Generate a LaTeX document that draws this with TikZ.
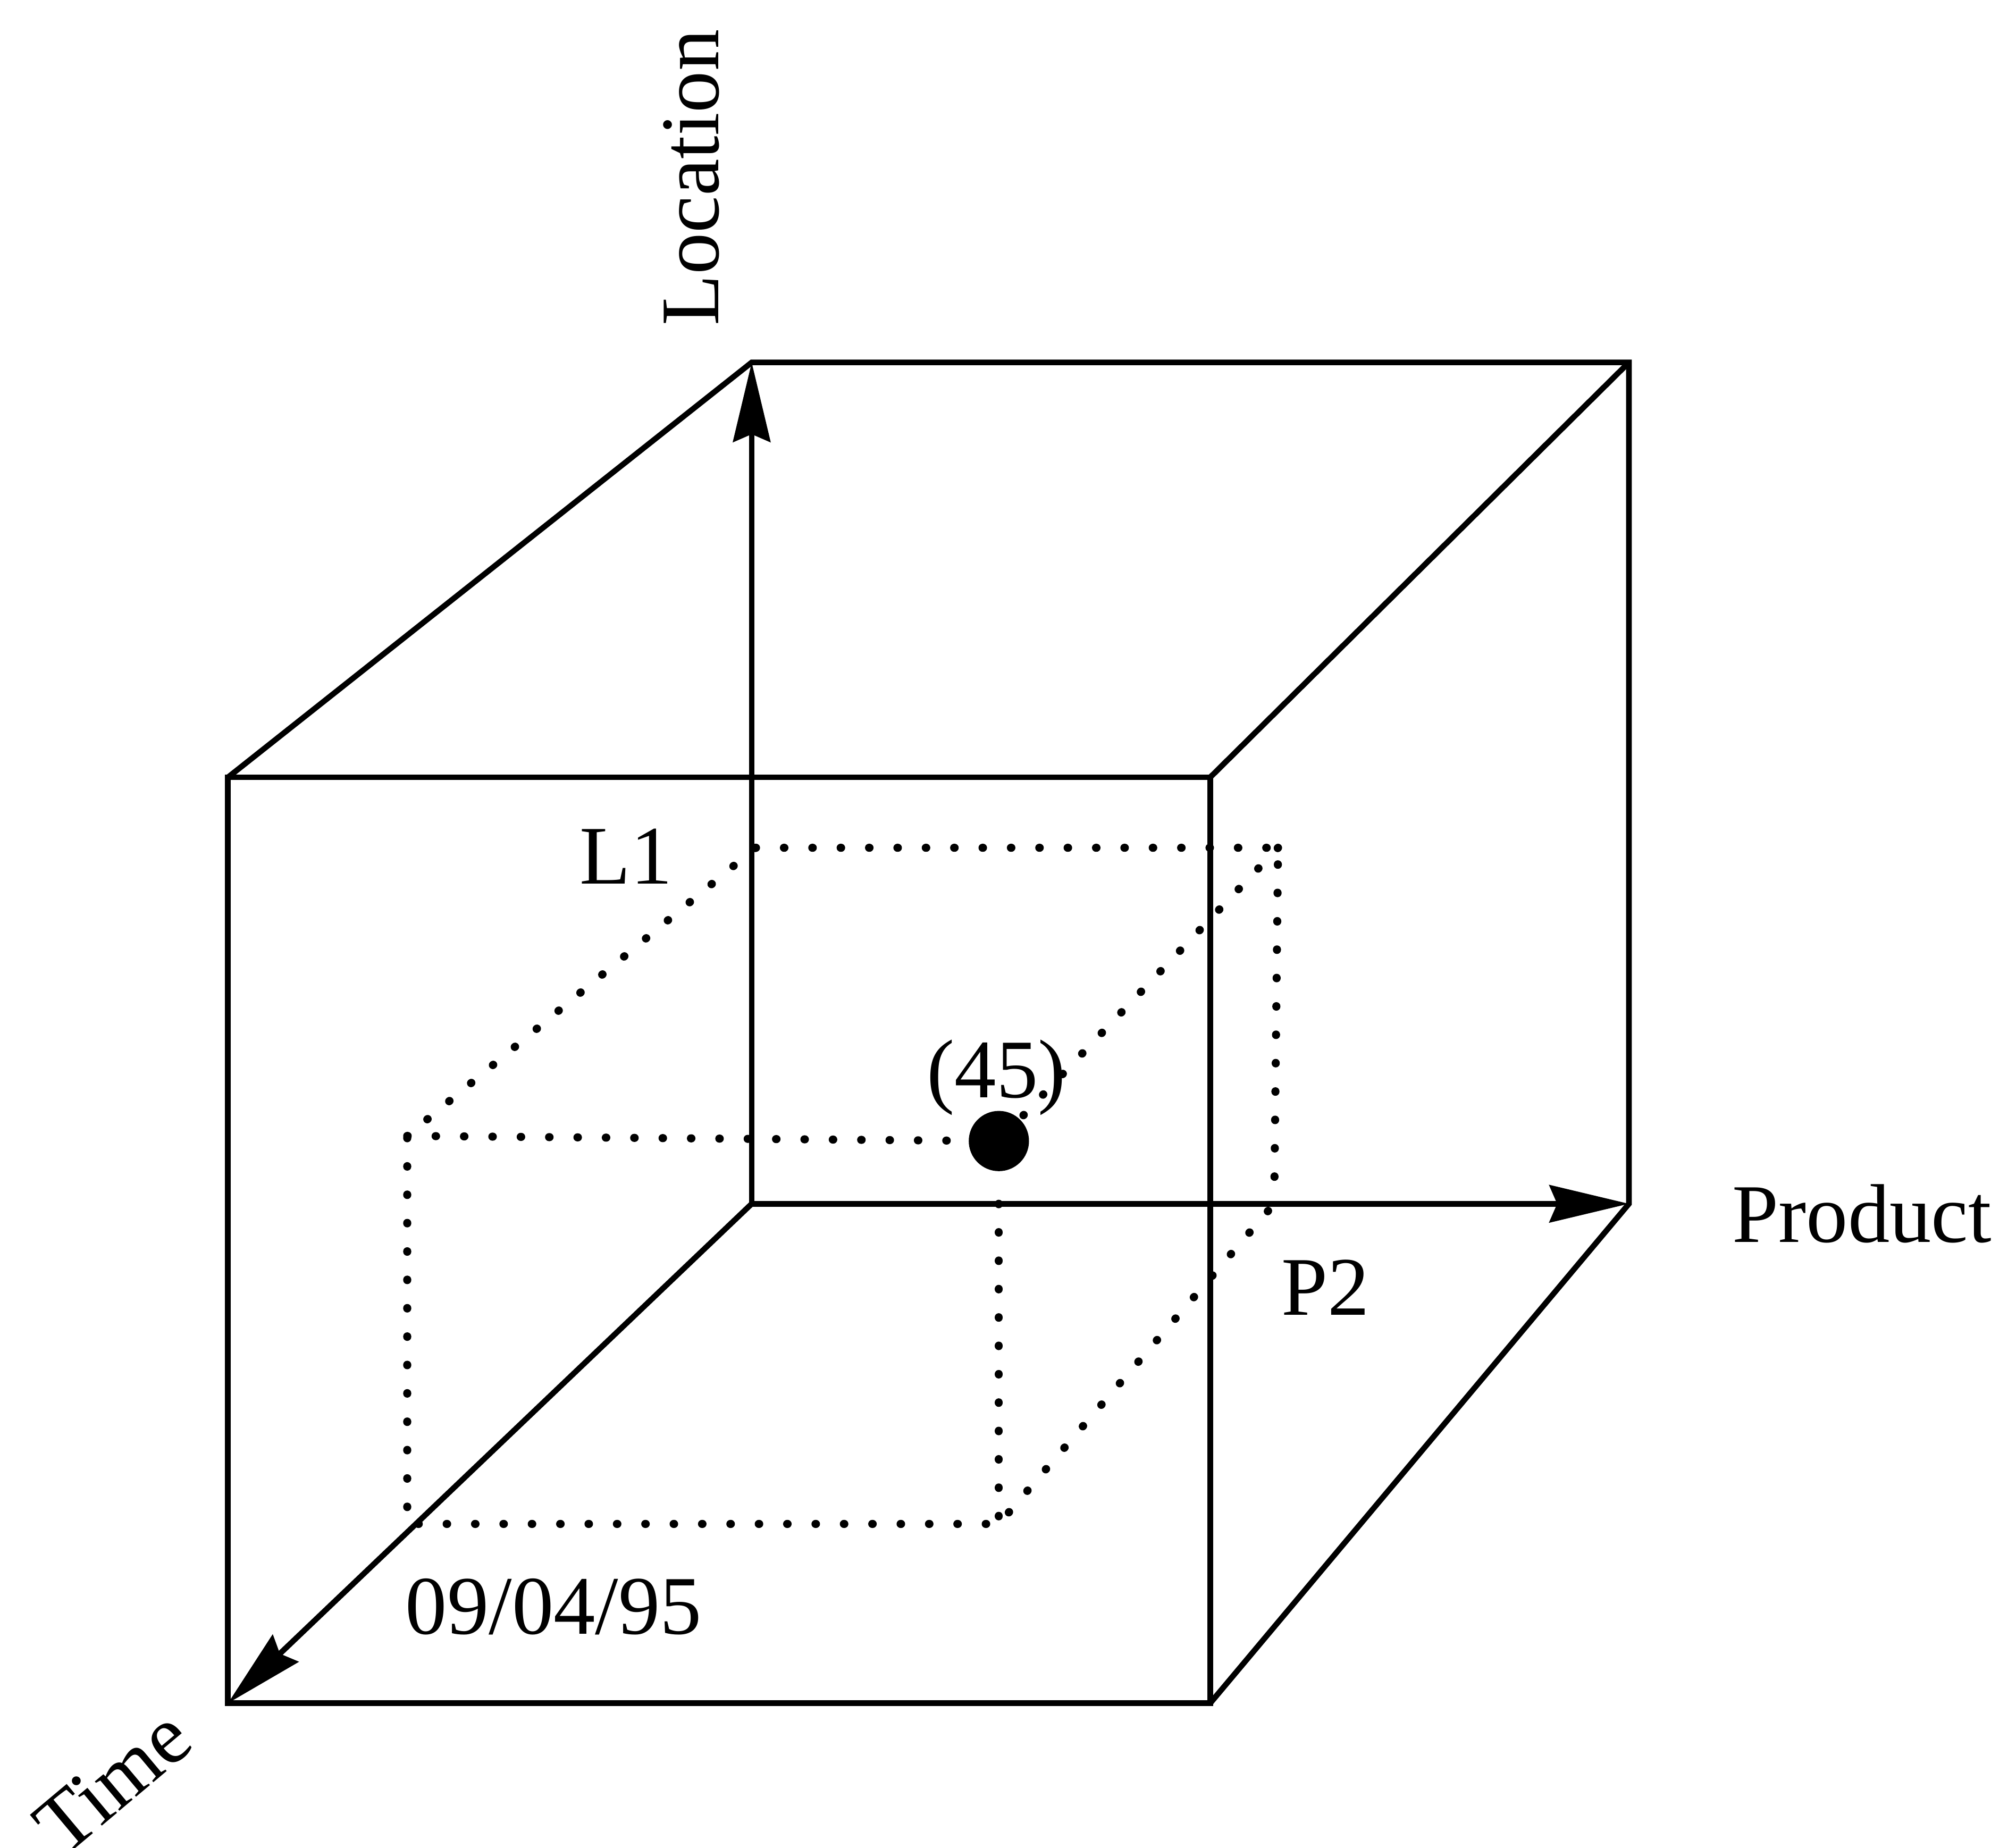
\documentclass[tikz,border=0pt]{standalone}
\usepackage{fontspec}
\setmainfont{Liberation Serif}
\usetikzlibrary{arrows.meta}

\begin{document}
\begin{tikzpicture}[x=0.01cm, y=-0.01cm,
                    edge/.style={line width=1.25pt, line join=miter},
                    axis/.style={line width=1.25pt, -{Stealth[length=6.2mm, width=2.9mm, inset=0.6mm]}},
                    guide/.style={line width=1.8pt, line cap=round, dash pattern=on 0.1pt off 6.2pt},
                    lbl/.style={font=\fontsize{18.5}{22}\selectfont, inner sep=0pt}]
    \useasboundingbox (0,0) rectangle (1568,1443);
    % corners of the cube
    \coordinate (o) at (587,940);
    \coordinate (loc) at (587,283);
    \coordinate (prod) at (1272,940);
    \coordinate (time) at (178,1330);
    \coordinate (ftl) at (178,607);
    \coordinate (ftr) at (945,607);
    \coordinate (fbr) at (945,1330);
    \coordinate (btr) at (1272,283);
    % corners of the sub-cube
    \coordinate (l1) at (590,662);
    \coordinate (l1p) at (998,662);
    \coordinate (p2) at (995,940);
    \coordinate (l1t) at (318,887);
    \coordinate (t1) at (318,1190);
    \coordinate (t1p) at (780,1190);
    \coordinate (pa) at (780,940);
    \node[circle, fill, inner sep=0pt, minimum size=4.7mm] (cell) at (780,891) {};

    \draw[edge] (ftl) -- (ftr) -- (fbr) -- (time) -- cycle;
    \draw[edge] (ftl) -- (loc) -- (btr) -- (prod) -- (fbr);
    \draw[edge] (ftr) -- (btr);

    \draw[guide] (l1) -- (l1p) -- (p2);
    \draw[guide] (l1p) -- (cell);
    \draw[guide] (l1) -- (l1t) -- (t1) -- (t1p) -- (p2);
    \draw[guide] (l1t) -- (cell);
    \draw[guide] (pa) -- (t1p);

    \draw[axis] (o) -- (loc);
    \draw[axis] (o) -- (prod);
    \draw[axis] (o) -- (time);

    \node[lbl, rotate=90, anchor=base west] (loclbl) at (561,255) {Location};
    \node[lbl, anchor=base west] (prodlbl) at (1352,970) {Product};
    \node[lbl, rotate=40] (timelbl) at (88,1391) {Time};
    \node[lbl, anchor=base west] (l1lbl) at (452,690) {L1};
    \node[lbl, anchor=base west] (p2lbl) at (1000,1027) {P2};
    \node[lbl, anchor=base] (vallbl) at (778,857) {(45)};
    \node[lbl, anchor=base west] (t1lbl) at (316,1276) {09/04/95};
\end{tikzpicture}
\end{document}
